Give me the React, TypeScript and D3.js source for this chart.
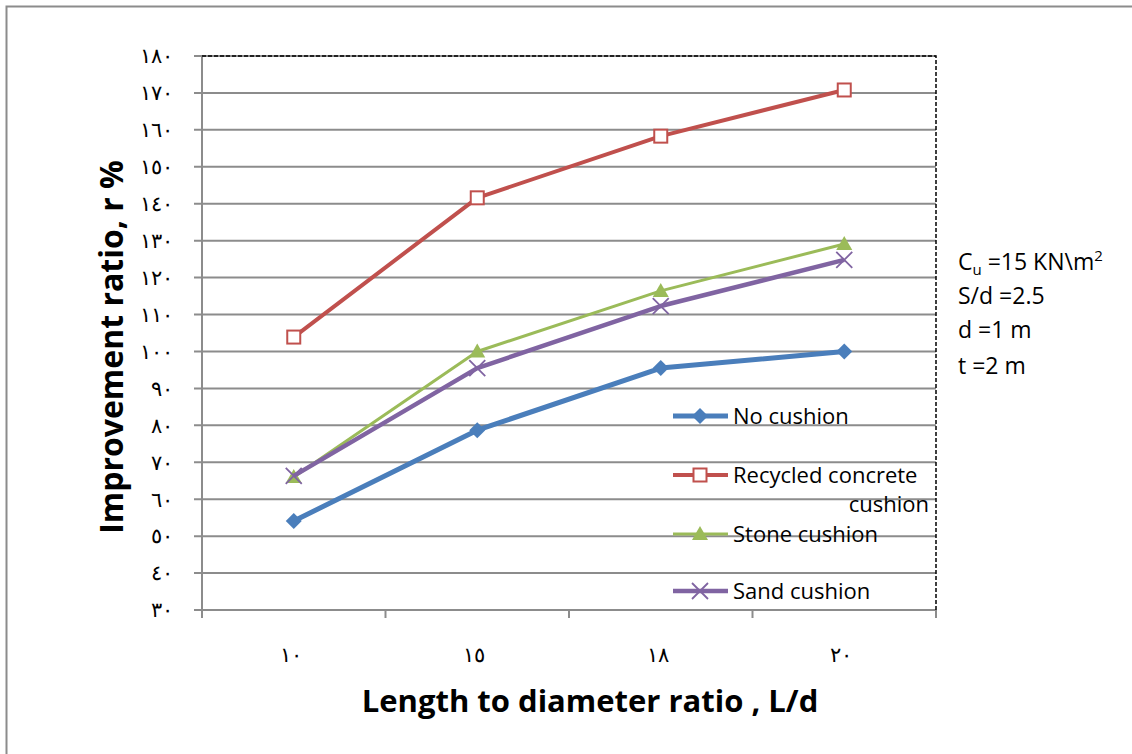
import React from "react";
import * as d3 from "d3";

const categories = ["10", "15", "18", "20"];
const categoryLabels = ["١٠", "١٥", "١٨", "٢٠"];
const noCushion = [54.1, 78.7, 95.5, 100];
const recycled = [103.9, 141.6, 158.3, 170.8];
const stone = [66, 100, 116.4, 129.1];
const sand = [66.3, 95.5, 112.3, 124.8];
const yTicks = [30, 40, 50, 60, 70, 80, 90, 100, 110, 120, 130, 140, 150, 160, 170, 180];
const toArabic = (n: number) => String(n).replace(/\d/g, (d) => "٠١٢٣٤٥٦٧٨٩"[+d]);

const seriesList = [
  { name: "No cushion", values: noCushion, color: "#4a7ebb", width: 5, marker: "diamond" },
  { name: "Recycled concrete", values: recycled, color: "#c0504d", width: 4, marker: "square" },
  { name: "Stone cushion", values: stone, color: "#9bbb59", width: 3, marker: "triangle" },
  { name: "Sand cushion", values: sand, color: "#8064a2", width: 4.5, marker: "x" },
];

const W = 1132, H = 754;
const left = 202, right = 936, top = 56, bottom = 610;

function Marker({ type, x, y, color }: { type: string; x: number; y: number; color: string }) {
  if (type === "diamond") {
    const s = 8;
    return <path d={`M${x},${y - s}L${x + s},${y}L${x},${y + s}L${x - s},${y}Z`} fill={color} />;
  }
  if (type === "square") {
    return <rect x={x - 6.5} y={y - 6.5} width={13} height={13} fill="#fff" stroke={color} strokeWidth={2} />;
  }
  if (type === "triangle") {
    return <path d={`M${x},${y - 8}L${x + 8},${y + 6}L${x - 8},${y + 6}Z`} fill={color} />;
  }
  const s = 8;
  return (
    <path d={`M${x - s},${y - s}L${x + s},${y + s}M${x - s},${y + s}L${x + s},${y - s}`} stroke={color} strokeWidth={1.8} />
  );
}

export default function App() {
  const x = d3.scaleBand().domain(categories).range([left, right]);
  const y = d3.scaleLinear().domain([30, 180]).range([bottom, top]);
  const cx = (c: string) => (x(c) as number) + x.bandwidth() / 2;
  const line = d3
    .line<number>()
    .x((_, i) => cx(categories[i]))
    .y((v) => y(v));
  const legendY = [416, 475, 534, 591];
  const font = "'Open Sans', sans-serif";
  const xTickPos = [...categories.map((c) => x(c) as number), right];

  return (
    <svg width={W} height={H} style={{ position: "absolute", left: 0, top: 0 }} fontFamily={font}>
      <rect x={0} y={0} width={W} height={H} fill="#fff" />
      <rect x={6.5} y={6.5} width={W + 40} height={H + 40} fill="none" stroke="#8c8c8c" strokeWidth={2} />
      {/* gridlines */}
      {yTicks.map((t) => (
        <line key={t} x1={left - 8} x2={right} y1={y(t)} y2={y(t)} stroke="#8c8c8c" strokeWidth={2} />
      ))}
      {/* y tick labels */}
      {yTicks.map((t) => (
        <text key={"l" + t} x={173} y={y(t)} dy="0.35em" textAnchor="end" fontSize={21} fontFamily="'DejaVu Serif', serif">
          {toArabic(t)}
        </text>
      ))}
      {/* axes */}
      <line x1={left} x2={left} y1={top} y2={bottom + 8} stroke="#8c8c8c" strokeWidth={2} />
      <line x1={left - 8} x2={right} y1={bottom} y2={bottom} stroke="#8c8c8c" strokeWidth={2} />
      {xTickPos.map((p, i) => (
        <line key={"xt" + i} x1={p} x2={p} y1={bottom} y2={bottom + 8} stroke="#8c8c8c" strokeWidth={2} />
      ))}
      {/* dashed top/right border */}
      <path d={`M${left},${top}H${right}V${bottom}`} fill="none" stroke="#000" strokeWidth={1.5} strokeDasharray="4,2" />
      {/* x tick labels */}
      {categories.map((c, i) => (
        <text key={"xl" + c} x={cx(c) - 3} y={655} textAnchor="middle" dy="0.35em" fontSize={21} fontFamily="'DejaVu Serif', serif">
          {categoryLabels[i]}
        </text>
      ))}
      {/* series */}
      {seriesList.map((s) => (
        <g key={s.name}>
          <path d={line(s.values) || ""} fill="none" stroke={s.color} strokeWidth={s.width} strokeLinejoin="round" />
          {s.values.map((v, i) => (
            <Marker key={i} type={s.marker} x={cx(categories[i])} y={y(v)} color={s.color} />
          ))}
        </g>
      ))}
      {/* legend */}
      {seriesList.map((s, i) => (
        <g key={"lg" + s.name}>
          <line x1={673} x2={728} y1={legendY[i]} y2={legendY[i]} stroke={s.color} strokeWidth={s.width} />
          <Marker type={s.marker} x={700} y={legendY[i]} color={s.color} />
          {i === 1 ? (
            <text x={733} y={legendY[i]} dy="0.35em" fontSize={22} fill="#000">
              {s.name}
              <tspan x={929} dy={29} textAnchor="end">cushion</tspan>
            </text>
          ) : (
            <text x={733} y={legendY[i]} dy="0.35em" fontSize={22} fill="#000">
              {s.name}
            </text>
          )}
        </g>
      ))}
      {/* annotations */}
      <text x={958} y={270} fontSize={23}>
        C<tspan fontSize={15} dy={5}>u</tspan>
        <tspan dy={-5}> =15 KN\m</tspan>
        <tspan fontSize={15} dy={-9}>2</tspan>
      </text>
      <text x={958} y={304} fontSize={23}>S/d =2.5</text>
      <text x={958} y={338} fontSize={23}>d =1 m</text>
      <text x={958} y={374} fontSize={23}> t =2 m</text>
      {/* axis titles */}
      <text
        transform={`translate(112,347) rotate(-90)`}
        textAnchor="middle"
        dy="0.35em"
        fontSize={32}
        fontWeight="bold"
      >
        Improvement ratio, r %
      </text>
      <text x={590} y={701} textAnchor="middle" dy="0.35em" fontSize={31} fontWeight="bold">
        Length to diameter ratio , L/d
      </text>
    </svg>
  );
}
